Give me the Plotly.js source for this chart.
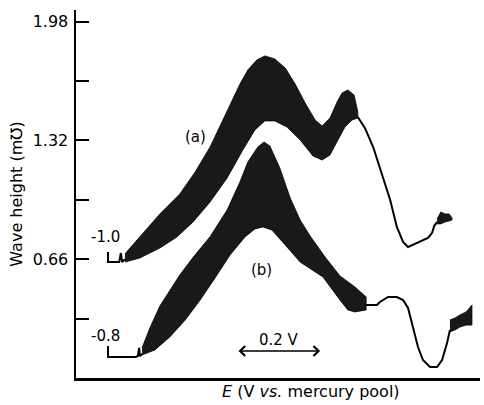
<!DOCTYPE html>
<html>
<head>
<meta charset="utf-8">
<script src="https://cdn.plot.ly/plotly-3.0.1.min.js"></script>
<style>html,body{margin:0;padding:0;background:#fff;}#chart{width:484px;height:405px;}</style>
</head>
<body>
<div id="chart"></div>
<script>
// E offset from start of each scan (V) and wave height (mho)
// Curve (a), start at -1.0 V
var aLeadX = [0.000, 0.000, 0.027, 0.031, 0.034, 0.039, 0.041];
var aLeadY = [0.700, 0.644, 0.644, 0.694, 0.644, 0.656, 0.660];
var aUpperX = [0.041, 0.077, 0.125, 0.173, 0.210, 0.246, 0.275, 0.299, 0.318, 0.337, 0.359, 0.378, 0.402, 0.427, 0.451, 0.475, 0.499, 0.516, 0.535, 0.552, 0.564, 0.578, 0.593, 0.602];
var aUpperY = [0.690, 0.783, 0.911, 1.022, 1.144, 1.283, 1.422, 1.544, 1.633, 1.711, 1.767, 1.789, 1.772, 1.722, 1.633, 1.528, 1.433, 1.400, 1.444, 1.533, 1.583, 1.600, 1.572, 1.478];
var aLowerX = [0.041, 0.077, 0.125, 0.166, 0.205, 0.246, 0.287, 0.325, 0.354, 0.378, 0.402, 0.431, 0.463, 0.494, 0.516, 0.535, 0.554, 0.571, 0.588, 0.602];
var aLowerY = [0.644, 0.667, 0.722, 0.783, 0.867, 0.978, 1.111, 1.267, 1.378, 1.428, 1.428, 1.394, 1.322, 1.233, 1.211, 1.239, 1.322, 1.394, 1.433, 1.444];
var aTailX = [0.602, 0.619, 0.639, 0.663, 0.680, 0.696, 0.711, 0.723, 0.745, 0.771, 0.781, 0.786, 0.793];
var aTailY = [1.450, 1.389, 1.283, 1.117, 0.989, 0.839, 0.756, 0.728, 0.750, 0.778, 0.806, 0.844, 0.867];
var aNoiseX = [0.793, 0.802, 0.812, 0.822, 0.829];
var aNoiseUpper = [0.883, 0.922, 0.911, 0.911, 0.889];
var aNoiseLower = [0.856, 0.856, 0.867, 0.872, 0.878];

// Curve (b), start at -0.8 V
var bLeadX = [0.000, 0.000, 0.067, 0.072, 0.075, 0.077, 0.082];
var bLeadY = [0.178, 0.117, 0.117, 0.122, 0.167, 0.122, 0.133];
var bUpperX = [0.082, 0.101, 0.125, 0.149, 0.173, 0.205, 0.246, 0.287, 0.318, 0.337, 0.361, 0.376, 0.390, 0.414, 0.439, 0.463, 0.487, 0.523, 0.559, 0.595, 0.622];
var bUpperY = [0.167, 0.278, 0.400, 0.489, 0.572, 0.670, 0.785, 0.933, 1.089, 1.200, 1.283, 1.311, 1.289, 1.167, 1.000, 0.878, 0.789, 0.672, 0.567, 0.506, 0.450];
var bLowerX = [0.082, 0.113, 0.149, 0.186, 0.222, 0.258, 0.294, 0.330, 0.354, 0.373, 0.395, 0.427, 0.463, 0.518, 0.559, 0.578, 0.595, 0.622];
var bLowerY = [0.128, 0.156, 0.228, 0.322, 0.433, 0.556, 0.683, 0.783, 0.828, 0.839, 0.822, 0.739, 0.644, 0.561, 0.433, 0.378, 0.367, 0.378];
var bTailX = [0.622, 0.648, 0.655, 0.675, 0.696, 0.711, 0.723, 0.735, 0.747, 0.759, 0.776, 0.793, 0.805, 0.817, 0.824];
var bTailY = [0.406, 0.406, 0.422, 0.450, 0.450, 0.433, 0.389, 0.283, 0.172, 0.100, 0.061, 0.061, 0.100, 0.194, 0.267];
var bNoiseX = [0.824, 0.836, 0.848, 0.863, 0.877];
var bNoiseUpper = [0.322, 0.333, 0.350, 0.367, 0.406];
var bNoiseLower = [0.256, 0.267, 0.283, 0.294, 0.294];

// Axis ticks
var yTickVals = [0.33, 0.66, 0.99, 1.32, 1.65, 1.98];
var yTickText = ['', '0.66', '', '1.32', '', '1.98'];

// Scale bar (V)
var scaleStart = 0.311, scaleLength = 0.2, scaleY = 0.15;

function band(x, up, lowX, low) {
  return {
    x: x.concat(lowX.slice().reverse()),
    y: up.concat(low.slice().reverse()),
    mode: 'lines', fill: 'toself', fillcolor: 'rgba(0,0,0,0.9)',
    line: {color: '#000', width: 0.8}, hoverinfo: 'skip', showlegend: false
  };
}
function line(x, y) {
  return {x: x, y: y, mode: 'lines', line: {color: '#000', width: 2}, hoverinfo: 'skip', showlegend: false};
}

var traces = [
  line(aLeadX, aLeadY), band(aUpperX, aUpperY, aLowerX, aLowerY), line(aTailX, aTailY), band(aNoiseX, aNoiseUpper, aNoiseX, aNoiseLower),
  line(bLeadX, bLeadY), band(bUpperX, bUpperY, bLowerX, bLowerY), line(bTailX, bTailY), band(bNoiseX, bNoiseUpper, bNoiseX, bNoiseLower)
];

var fnt = {family: 'DejaVu Sans', size: 15, color: '#000'};

var layout = {
  width: 484, height: 405,
  margin: {l: 76, r: 4, t: 10, b: 27},
  paper_bgcolor: '#fff', plot_bgcolor: '#fff',
  font: fnt,
  showlegend: false,
  xaxis: {
    range: [-0.0771, 0.8964], showgrid: false, zeroline: false,
    showline: true, linecolor: '#000', linewidth: 2.5,
    ticks: '', showticklabels: false, fixedrange: true
  },
  yaxis: {
    range: [0, 2.044], showgrid: false, zeroline: false,
    showline: true, linecolor: '#000', linewidth: 2.5,
    ticks: 'inside', ticklen: 13, tickwidth: 2, tickcolor: '#000',
    tickvals: yTickVals, ticktext: yTickText,
    tickfont: {family: 'DejaVu Sans', size: 16, color: '#000'},
    ticklabelstandoff: 2,
    title: {text: 'Wave height (m℧)', font: {family: 'DejaVu Sans', size: 16, color: '#000'}, standoff: 6},
    fixedrange: true
  },
  annotations: [
    {x: 0.210, y: 1.339, xref: 'x', yref: 'y', text: '(a)', showarrow: false, font: fnt},
    {x: 0.369, y: 0.600, xref: 'x', yref: 'y', text: '(b)', showarrow: false, font: fnt},
    {x: -0.005, y: 0.783, xref: 'x', yref: 'y', text: '-1.0', showarrow: false, font: fnt},
    {x: -0.007, y: 0.233, xref: 'x', yref: 'y', text: '-0.8', showarrow: false, font: fnt},
    {x: scaleStart + scaleLength / 2, y: 0.211, xref: 'x', yref: 'y', text: '0.2 V', showarrow: false, font: fnt},
    {x: scaleStart + scaleLength, y: scaleY, ax: scaleStart, ay: scaleY, xref: 'x', yref: 'y', axref: 'x', ayref: 'y',
     text: '', showarrow: true, arrowside: 'end+start', arrowhead: 4, arrowsize: 1.3, arrowwidth: 1.5, arrowcolor: '#000'},
    {x: 0.582, y: -0.038, xref: 'paper', yref: 'paper', xanchor: 'center', yanchor: 'middle',
     text: '<i>E</i> (V <i>vs.</i> mercury pool)', showarrow: false, font: {family: 'DejaVu Sans', size: 16, color: '#000'}}
  ]
};

Plotly.newPlot('chart', traces, layout, {staticPlot: true, displayModeBar: false});
</script>
</body>
</html>
